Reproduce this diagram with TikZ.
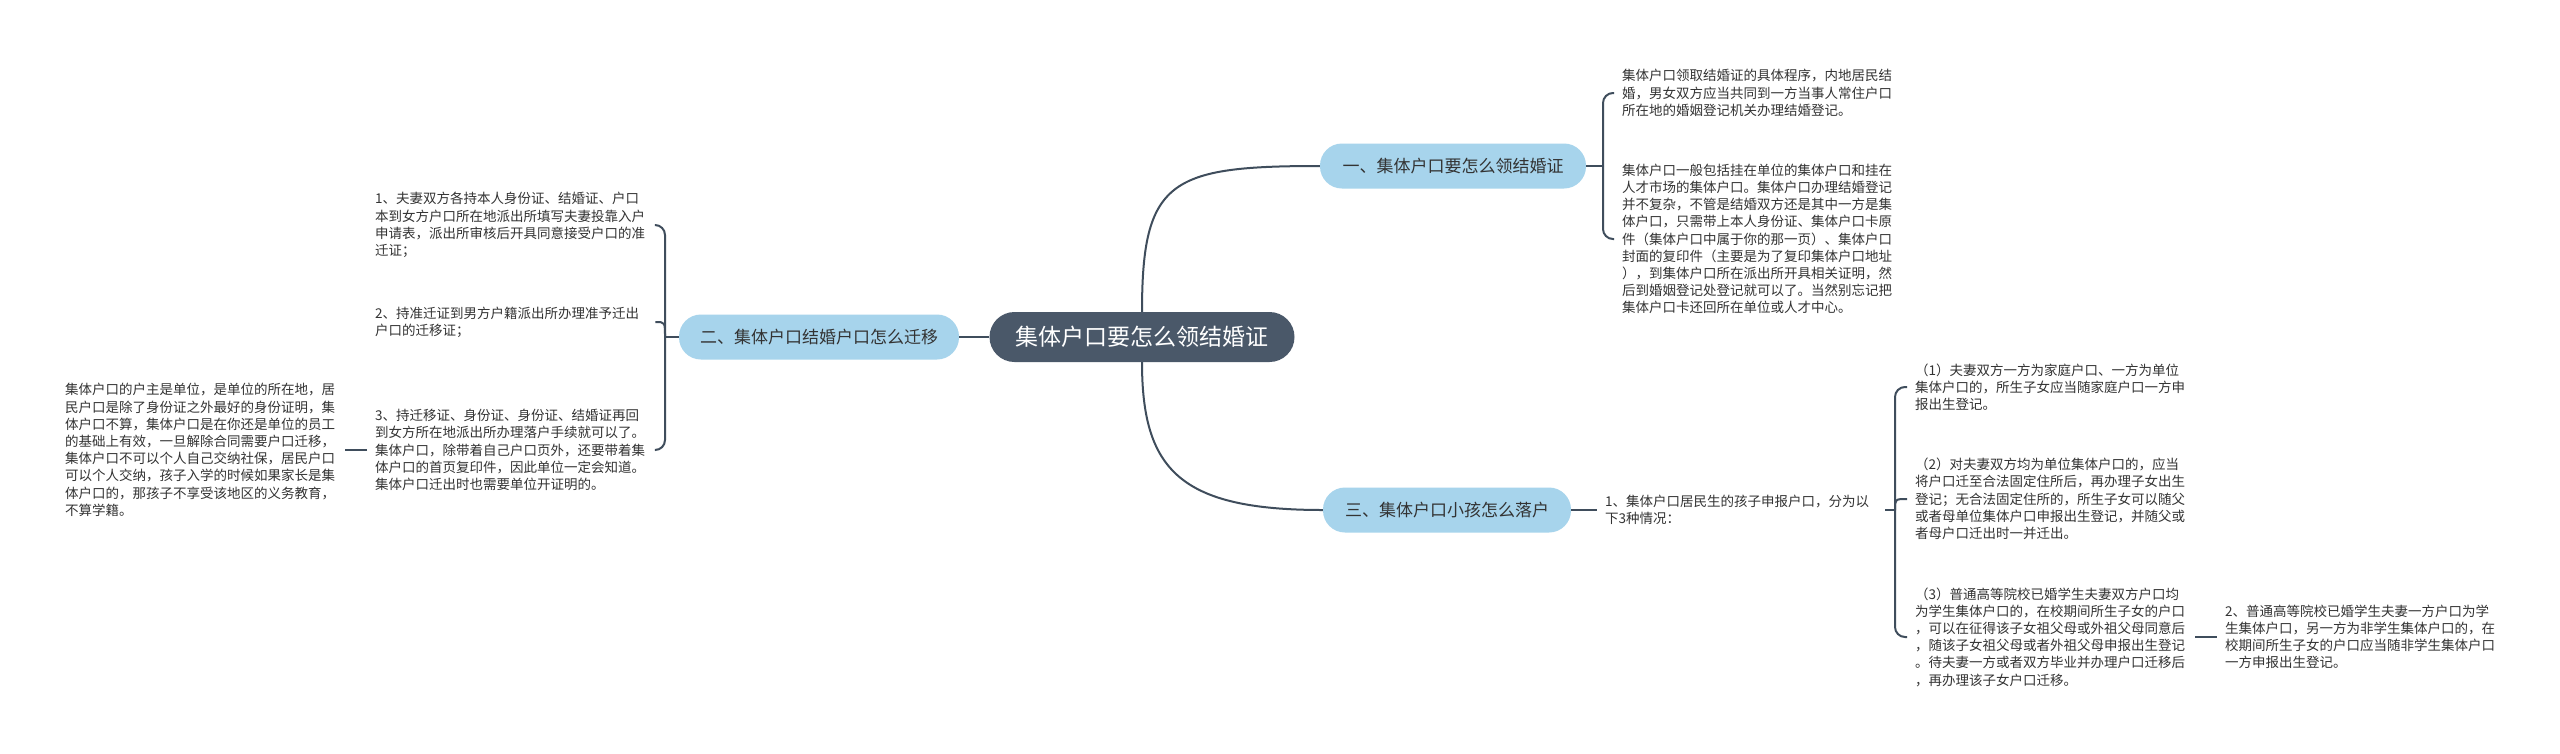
\documentclass[tikz,border=0pt]{standalone}
\usepackage{fontspec}
\setmainfont{Noto Sans CJK SC}
\definecolor{rootfill}{HTML}{4A5869}
\definecolor{linec}{HTML}{3F4D5C}
\definecolor{brfill}{HTML}{A7D4EC}
\definecolor{txt}{HTML}{333333}
\begin{document}
\begin{tikzpicture}[x=1pt,y=-1pt,
 root/.style={fill=rootfill, text=white, rounded corners=25pt, minimum width=305pt, minimum height=50pt, font=\fontsize{23}{28}\selectfont, inner sep=0pt},
 branch/.style={fill=brfill, text=txt, rounded corners=22pt, minimum height=45pt, font=\fontsize{17}{20}\selectfont, inner sep=0pt},
 leaf/.style={text=txt, font=\fontsize{13.5}{17.2}\selectfont, align=left, text width=272pt, inner xsep=8pt, inner ysep=2pt, anchor=west},
 conn/.style={draw=linec, line width=2pt},
 hook/.style={conn, rounded corners=10pt}]
\useasboundingbox[fill=white] (0,0) rectangle (2560,753);

\node[root] (root) at (1142,337) {集体户口要怎么领结婚证};
\node[branch, minimum width=266pt] (b1) at (1453,166) {一、集体户口要怎么领结婚证};
\node[branch, minimum width=280pt] (b2) at (819,337) {二、集体户口结婚户口怎么迁移};
\node[branch, minimum width=248pt] (b3) at (1447,510) {三、集体户口小孩怎么落户};

\node[leaf] (a1) at (1614,93) {集体户口领取结婚证的具体程序，内地居民结\\婚，男女双方应当共同到一方当事人常住户口\\所在地的婚姻登记机关办理结婚登记。};
\node[leaf] (a2) at (1614,239) {集体户口一般包括挂在单位的集体户口和挂在\\人才市场的集体户口。集体户口办理结婚登记\\并不复杂，不管是结婚双方还是其中一方是集\\体户口，只需带上本人身份证、集体户口卡原\\件（集体户口中属于你的那一页）、集体户口\\封面的复印件（主要是为了复印集体户口地址\\），到集体户口所在派出所开具相关证明，然\\后到婚姻登记处登记就可以了。当然别忘记把\\集体户口卡还回所在单位或人才中心。};

\node[leaf] (c1) at (367,225) {1、夫妻双方各持本人身份证、结婚证、户口\\本到女方户口所在地派出所填写夫妻投靠入户\\申请表，派出所审核后开具同意接受户口的准\\迁证；};
\node[leaf] (c2) at (367,322) {2、持准迁证到男方户籍派出所办理准予迁出\\户口的迁移证；};
\node[leaf] (c3) at (367,450) {3、持迁移证、身份证、身份证、结婚证再回\\到女方所在地派出所办理落户手续就可以了。\\集体户口，除带着自己户口页外，还要带着集\\体户口的首页复印件，因此单位一定会知道。\\集体户口迁出时也需要单位开证明的。};
\node[leaf] (d) at (57,450) {集体户口的户主是单位，是单位的所在地，居\\民户口是除了身份证之外最好的身份证明，集\\体户口不算，集体户口是在你还是单位的员工\\的基础上有效，一旦解除合同需要户口迁移，\\集体户口不可以个人自己交纳社保，居民户口\\可以个人交纳，孩子入学的时候如果家长是集\\体户口的，那孩子不享受该地区的义务教育，\\不算学籍。};

\node[leaf] (e) at (1597,510) {1、集体户口居民生的孩子申报户口，分为以\\下3种情况：};
\node[leaf] (f1) at (1907,387) {（1）夫妻双方一方为家庭户口、一方为单位\\集体户口的，所生子女应当随家庭户口一方申\\报出生登记。};
\node[leaf] (f2) at (1907,499) {（2）对夫妻双方均为单位集体户口的，应当\\将户口迁至合法固定住所后，再办理子女出生\\登记；无合法固定住所的，所生子女可以随父\\或者母单位集体户口申报出生登记，并随父或\\者母户口迁出时一并迁出。};
\node[leaf] (f3) at (1907,637) {（3）普通高等院校已婚学生夫妻双方户口均\\为学生集体户口的，在校期间所生子女的户口\\，可以在征得该子女祖父母或外祖父母同意后\\，随该子女祖父母或者外祖父母申报出生登记\\。待夫妻一方或者双方毕业并办理户口迁移后\\，再办理该子女户口迁移。};
\node[leaf] (g) at (2217,637) {2、普通高等院校已婚学生夫妻一方户口为学\\生集体户口，另一方为非学生集体户口的，在\\校期间所生子女的户口应当随非学生集体户口\\一方申报出生登记。};

\coordinate (j1) at (1603,166);
\coordinate (j2) at (665,337);
\coordinate (j3) at (1895,510);

\draw[conn] (root.north) .. controls (1142,180) and (1170,166) .. (b1.west);
\draw[conn] (root.south) .. controls (1142,470) and (1180,510) .. (b3.west);
\draw[conn] (root.west) -- (b2.east);

\draw[conn] (b1.east) -- (j1);
\draw[hook] (j1) |- (a1.west);
\draw[hook] (j1) |- (a2.west);

\draw[conn] (b2.west) -- (j2);
\draw[hook] (j2) |- (c1.east);
\draw[conn] (j2) .. controls (665,322) .. (c2.east);
\draw[hook] (j2) |- (c3.east);
\draw[conn] (c3.west) -- (d.east);

\draw[conn] (b3.east) -- (e.west);
\draw[conn] (e.east) -- (j3);
\draw[hook] (j3) |- (f1.west);
\draw[conn] (j3) .. controls (1895,499) .. (f2.west);
\draw[hook] (j3) |- (f3.west);
\draw[conn] (f3.east) -- (g.west);
\end{tikzpicture}
\end{document}
